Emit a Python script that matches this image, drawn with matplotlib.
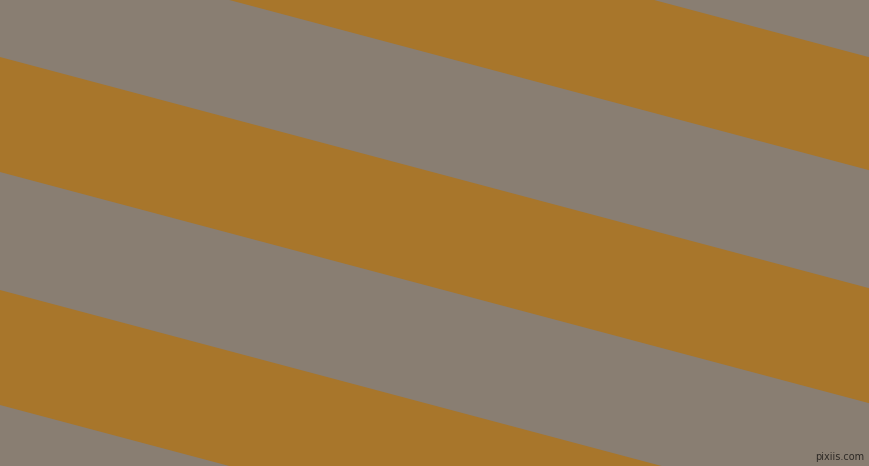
import matplotlib
matplotlib.use("Agg")
from matplotlib import pyplot as plt
import numpy as np

# stripe pattern: orange bands on a gray ground, edges given at x=0 (pixels from top)
width_px = 869
height_px = 466
slope = 0.266                      # drop in y per pixel of x
band_top = [-174, 57, 290]         # upper edge of each orange band at x=0
band_bottom = [-61, 172, 405]      # lower edge of each orange band at x=0

gray = "#897e72"
orange = "#a8762b"

fig = plt.figure(figsize=(width_px / 100, height_px / 100), dpi=100)
ax = fig.add_axes([0, 0, 1, 1])
ax.set_facecolor(gray)

x = np.array([0, width_px])
for top, bottom in zip(band_top, band_bottom):
    ax.fill_between(x, top + slope * x, bottom + slope * x, color=orange, linewidth=0)

ax.set_xlim(0, width_px)
ax.set_ylim(height_px, 0)
ax.axis("off")
fig.patch.set_facecolor(gray)

# watermark, bottom right
ax.text(864, 462, "pixiis.com", fontsize=7, color="#2e2a26", ha="right", va="bottom")

fig.savefig("out.png", dpi=100, facecolor=gray)
